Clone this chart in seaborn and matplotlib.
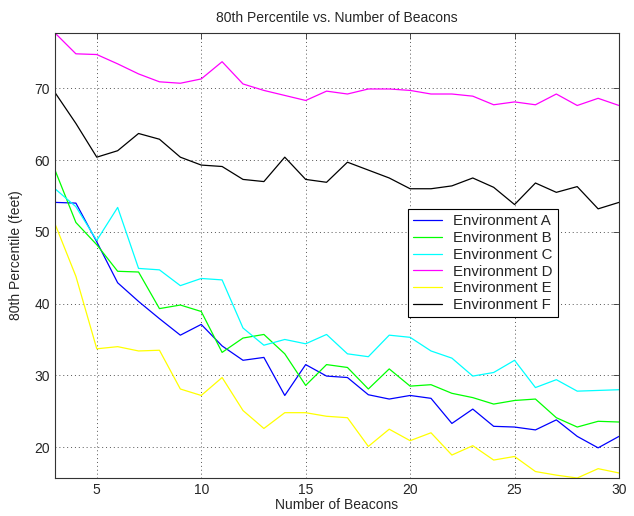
import numpy as np
import pandas as pd
import matplotlib
matplotlib.use('Agg')
import matplotlib.pyplot as plt
import seaborn as sns

beacons = list(range(3, 31))

env_a = [54.1, 54.0, 48.6, 42.9, 40.3, 37.9, 35.6, 37.1, 34.1, 32.1, 32.5, 27.2, 31.5, 29.9,
         29.7, 27.3, 26.7, 27.2, 26.8, 23.3, 25.3, 22.9, 22.8, 22.4, 23.8, 21.5, 19.9, 21.5]
env_b = [58.6, 51.3, 48.2, 44.5, 44.4, 39.3, 39.8, 38.9, 33.2, 35.2, 35.7, 33.0, 28.6, 31.5,
         31.1, 28.1, 30.9, 28.5, 28.7, 27.5, 26.9, 26.0, 26.5, 26.7, 24.1, 22.8, 23.6, 23.5]
env_c = [56.0, 53.5, 48.8, 53.4, 44.9, 44.7, 42.5, 43.5, 43.3, 36.6, 34.2, 35.0, 34.4, 35.7,
         33.0, 32.6, 35.6, 35.3, 33.4, 32.4, 29.9, 30.4, 32.1, 28.3, 29.4, 27.8, 27.9, 28.0]
env_d = [77.7, 74.8, 74.7, 73.4, 72.0, 70.9, 70.7, 71.3, 73.7, 70.6, 69.7, 69.0, 68.3, 69.6,
         69.2, 69.9, 69.9, 69.7, 69.2, 69.2, 68.9, 67.7, 68.1, 67.7, 69.2, 67.6, 68.6, 67.6]
env_e = [51.1, 43.8, 33.7, 34.0, 33.4, 33.5, 28.1, 27.2, 29.7, 25.1, 22.6, 24.8, 24.8, 24.3,
         24.1, 20.1, 22.5, 20.9, 22.0, 18.9, 20.2, 18.2, 18.7, 16.6, 16.1, 15.7, 17.0, 16.4]
env_f = [69.4, 65.1, 60.4, 61.3, 63.7, 62.9, 60.4, 59.3, 59.1, 57.3, 57.0, 60.4, 57.3, 56.9,
         59.7, 58.6, 57.5, 56.0, 56.0, 56.4, 57.5, 56.2, 53.8, 56.8, 55.5, 56.3, 53.2, 54.1]

names = ['Environment A', 'Environment B', 'Environment C',
         'Environment D', 'Environment E', 'Environment F']
series = [env_a, env_b, env_c, env_d, env_e, env_f]
colors = ['#0000ff', '#00ff00', '#00ffff', '#ff00ff', '#ffff00', '#000000']

# long format for seaborn
frames = []
for name, vals in zip(names, series):
    frames.append(pd.DataFrame({'Beacons': beacons, 'Value': vals, 'Environment': name}))
df = pd.concat(frames, ignore_index=True)

sns.set_style('white')
plt.rcParams['font.family'] = ['Liberation Sans', 'DejaVu Sans']
plt.rcParams['font.size'] = 10

fig = plt.figure(figsize=(6.34, 5.16), dpi=100)
ax = fig.add_axes([55 / 634, 1 - 478 / 516, 564 / 634, 445 / 516])

sns.lineplot(data=df, x='Beacons', y='Value', hue='Environment',
             palette=dict(zip(names, colors)), linewidth=0.9, ax=ax)

ax.set_xlim(3, 30)
ax.set_ylim(df['Value'].min(), df['Value'].max())
ax.set_xticks([5, 10, 15, 20, 25, 30])
ax.set_yticks([20, 30, 40, 50, 60, 70])
# matlab style dotted grid
ax.grid(True, linestyle=(0, (1, 3)), color='#555555', linewidth=0.7)
ax.set_axisbelow(True)
ax.tick_params(direction='in', length=4, top=True, right=True, labelsize=10,
               width=0.6, color='#333333')
for s in ax.spines.values():
    s.set_color('#333333')
    s.set_linewidth(0.8)

ax.set_title('80th Percentile vs. Number of Beacons', fontsize=10, pad=8)
ax.set_xlabel('Number of Beacons', fontsize=10, labelpad=1)
ax.set_ylabel('80th Percentile (feet)', fontsize=10, labelpad=8)

leg = ax.legend(loc='upper left', bbox_to_anchor=(0.626, 0.604), borderaxespad=0,
                fancybox=False, edgecolor='black', framealpha=1, fontsize=10.8,
                handlelength=1.9, borderpad=0.35, labelspacing=0.18, handletextpad=0.75)
leg.get_frame().set_linewidth(0.8)

fig.savefig('out.png', dpi=100)
